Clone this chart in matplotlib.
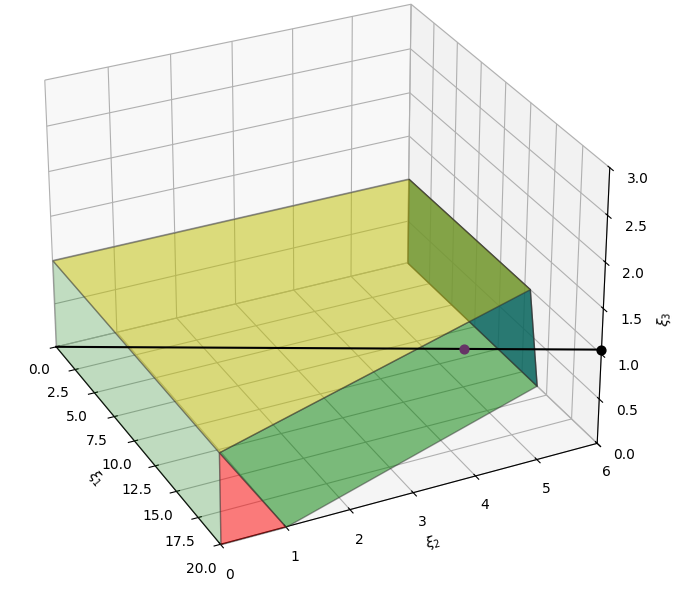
import matplotlib
matplotlib.use("Agg")
import matplotlib.pyplot as plt
from mpl_toolkits.mplot3d.art3d import Poly3DCollection
import numpy as np

top_face = [(0,0,1),(0,6,1),(13,6,1),(20,0,1)]
slope_face = [(20,0,1),(13,6,1),(14,6,0),(20,1,0)]
front_face = [(20,0,1),(20,1,0),(20,0,0)]
side_face = [(0,0,0),(0,0,1),(20,0,1),(20,0,0)]
back_face = [(0,6,0),(14,6,0),(13,6,1),(0,6,1)]
faces = [side_face, slope_face, front_face, back_face, top_face]
colors = ['green','green','red','#0f6470','y']
alphas = [0.22,0.5,0.5,0.75,0.5]

line_end = (20,6,1.05)
mid_t = 0.76

fig = plt.figure(figsize=(6.85,6.0), dpi=100)
ax = fig.add_axes([-0.115,0.015,1.14,1.07], projection='3d', computed_zorder=False)
ax.set_box_aspect(None, zoom=1.0)
for i,(f,c,a) in enumerate(zip(faces,colors,alphas)):
    pc = Poly3DCollection([f], facecolor=c, alpha=a, edgecolor='#333333', linewidth=1, zorder=i+1)
    ax.add_collection3d(pc)
ax.plot([0,line_end[0]],[0,line_end[1]],[0,line_end[2]], color='black', lw=1.5, zorder=10)
ax.scatter([line_end[0]],[line_end[1]],[line_end[2]], color='black', s=40, depthshade=False, zorder=11)
ax.scatter([line_end[0]*mid_t],[line_end[1]*mid_t],[line_end[2]*mid_t], color='#663366', s=40, depthshade=False, zorder=11)
ax.set_xlim(0,20); ax.set_ylim(0,6); ax.set_zlim(0,3)
ax.set_xticks(np.arange(0,20.1,2.5)); ax.set_yticks(range(7)); ax.set_zticks(np.arange(0,3.01,0.5))
ax.set_xlabel(r'$\xi_1$'); ax.set_ylabel(r'$\xi_2$'); ax.set_zlabel(r'$\xi_3$')
ax.view_init(elev=29, azim=-26)
fig.savefig('out.png', dpi=100)
